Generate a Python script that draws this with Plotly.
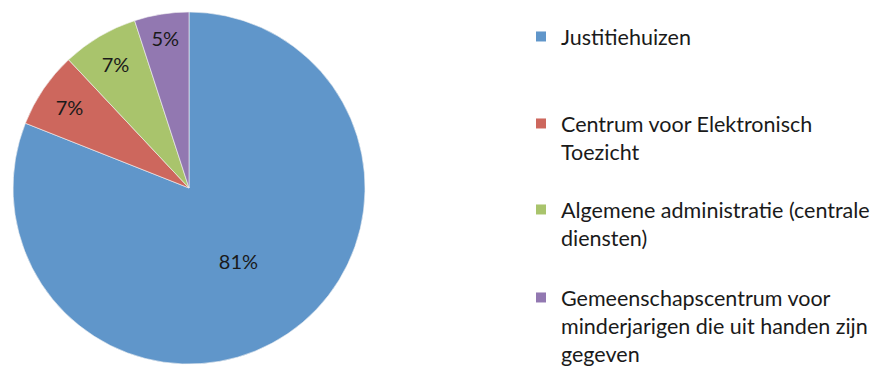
import plotly.graph_objects as go

# Slice data (clockwise from 12 o'clock)
labels = ["Justitiehuizen",
          "Centrum voor Elektronisch<br>Toezicht",
          "Algemene administratie (centrale<br>diensten)",
          "Gemeenschapscentrum voor<br>minderjarigen die uit handen zijn<br>gegeven"]
values = [81, 7, 7, 5]
colors = ["#6096CA", "#CD675D", "#A9C46C", "#9278B1"]

fig = go.Figure()

fig.add_trace(go.Pie(
    labels=labels,
    values=values,
    sort=False,
    direction="clockwise",
    rotation=0,
    marker=dict(colors=colors, line=dict(color="#F4F4F4", width=0.6)),
    texttemplate="%{percent:.0%}",
    textposition="inside",
    insidetextorientation="horizontal",
    textfont=dict(family="Lato", size=20, color="#1A1A1A"),
    hoverinfo="skip",
    showlegend=False,
    domain=dict(x=[0.0057, 0.4057], y=[0.0299, 0.9891]),
))

# legend entries, each in its own legend so they keep Excel-like spacing
legend_names = ["legend", "legend2", "legend3", "legend4"]
for lab, col, lg in zip(labels, colors, legend_names):
    fig.add_trace(go.Scatter(
        x=[None], y=[None], mode="markers", name=lab,
        marker=dict(symbol="square", size=10, color=col),
        legend=lg, showlegend=True, hoverinfo="skip",
    ))

H = 367
tops = [8, 95, 181, 269]
leg_common = dict(x=513 / 880, xanchor="left", yanchor="top",
                  bgcolor="rgba(0,0,0,0)", valign="top",
                  font=dict(family="Lato", size=21.5, color="#1A1A1A"))
layout_legends = {}
for lg, t in zip(legend_names, tops):
    layout_legends[lg] = dict(y=1 - t / H, **leg_common)

fig.update_layout(
    width=880, height=367,
    margin=dict(l=0, r=0, t=0, b=0, autoexpand=False),
    paper_bgcolor="white", plot_bgcolor="white",
    xaxis=dict(visible=False), yaxis=dict(visible=False),
    uniformtext=dict(minsize=19, mode="show"),
    **layout_legends,
)

fig.write_html("out.html")
